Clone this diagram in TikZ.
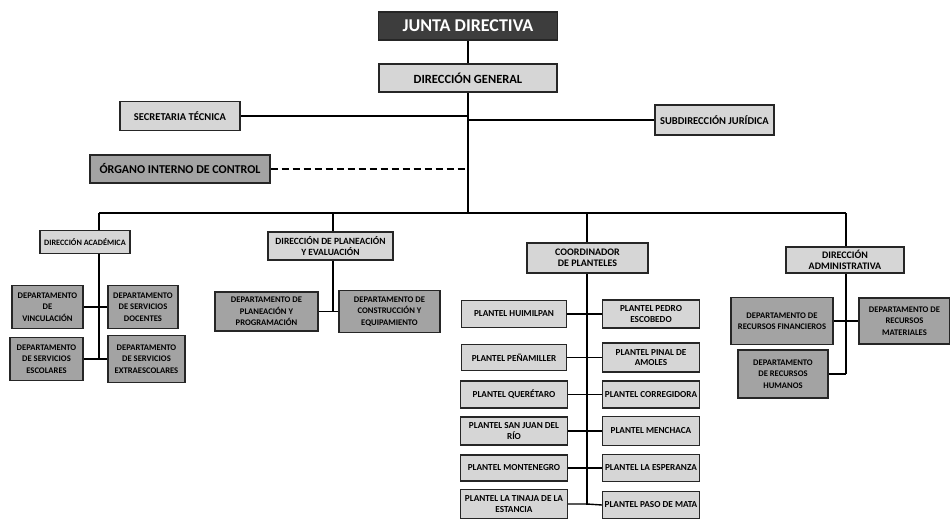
\documentclass[tikz,border=0pt]{standalone}
\usepackage{fontspec}
\setmainfont{Carlito}
\usetikzlibrary{backgrounds}
\definecolor{lightbox}{gray}{0.84}
\definecolor{darkbox}{gray}{0.64}
\definecolor{jdbox}{gray}{0.24}
\definecolor{edge}{gray}{0.15}
\newcommand{\fs}[1]{\fontsize{#1}{#1}\selectfont\bfseries}
\begin{document}
\begin{tikzpicture}[x=1pt,y=-1pt,
  box/.style={draw=edge, line width=1.3pt, align=center, inner sep=1pt, text=black},
  lightb/.style={box, fill=lightbox},
  darkb/.style={box, fill=darkbox},
  topb/.style={box, fill=jdbox, text=white, font=\fs{18}},
  fpl/.style={font=\fontsize{9.2}{10.5}\selectfont\bfseries},
  fdep/.style={font=\fontsize{8.6}{11.5}\selectfont\bfseries},
  conn/.style={draw=black, line width=1.4pt},
  trunk/.style={draw=black, line width=1.8pt},
  dashconn/.style={draw=black, line width=1.4pt, dash pattern=on 7pt off 4pt}]
\useasboundingbox (0,0) rectangle (950,519);

% top levels
\node[topb, minimum width=179pt, minimum height=28pt] (jd) at (468,26) {JUNTA DIRECTIVA};
\node[lightb, font=\fs{12.5}, minimum width=178pt, minimum height=28pt] (dg) at (468,78) {DIRECCIÓN GENERAL};
\node[lightb, font=\fs{10.5}, minimum width=120pt, minimum height=29pt] (sec) at (180,116) {SECRETARIA TÉCNICA};
\node[lightb, font=\fs{10.5}, minimum width=119pt, minimum height=30pt] (sub) at (714.5,120) {SUBDIRECCIÓN JURÍDICA};
\node[darkb, font=\fs{12}, minimum width=180pt, minimum height=28pt] (oic) at (180,169) {ÓRGANO INTERNO DE CONTROL};

% second level
\node[lightb, font=\fs{8.2}, minimum width=90pt, minimum height=23pt] (dirA) at (85,242) {DIRECCIÓN ACADÉMICA};
\node[lightb, font={\fontsize{9.5}{11}\selectfont\bfseries}, minimum width=125pt, minimum height=28pt] (dirP) at (330.5,246) {DIRECCIÓN DE PLANEACIÓN\\Y EVALUACIÓN};
\node[lightb, font={\fontsize{10}{11.5}\selectfont\bfseries}, minimum width=121pt, minimum height=30pt] (coord) at (587.5,258) {COORDINADOR\\DE PLANTELES};
\node[lightb, font={\fontsize{10}{11.5}\selectfont\bfseries}, minimum width=118pt, minimum height=26pt] (dirAdm) at (845,260) {DIRECCIÓN\\ADMINISTRATIVA};

% academic departments
\node[darkb, fdep, minimum width=71pt, minimum height=43pt] (dv) at (47.5,307) {DEPARTAMENTO\\DE\\VINCULACIÓN};
\node[darkb, fdep, minimum width=70pt, minimum height=43pt] (ds) at (143,307) {DEPARTAMENTO\\DE SERVICIOS\\DOCENTES};
\node[darkb, fdep, minimum width=73pt, minimum height=43pt] (dse) at (46.5,359) {DEPARTAMENTO\\DE SERVICIOS\\ESCOLARES};
\node[darkb, fdep, minimum width=77pt, minimum height=47pt] (dsx) at (146.5,359) {DEPARTAMENTO\\DE SERVICIOS\\EXTRAESCOLARES};

% planning departments
\node[darkb, fdep, minimum width=103pt, minimum height=39pt] (dpp) at (266.5,311.5) {DEPARTAMENTO DE\\PLANEACIÓN Y\\PROGRAMACIÓN};
\node[darkb, fdep, minimum width=101pt, minimum height=42pt] (dce) at (389.5,311.5) {DEPARTAMENTO DE\\CONSTRUCCIÓN Y\\EQUIPAMIENTO};

% planteles
\node[lightb, fpl, minimum width=105pt, minimum height=27pt] (p1) at (514,314) {PLANTEL HUIMILPAN};
\node[lightb, fpl, minimum width=97pt, minimum height=28pt] (q1) at (651,314) {PLANTEL PEDRO\\ESCOBEDO};
\node[lightb, fpl, minimum width=105pt, minimum height=26pt] (p2) at (514,357.5) {PLANTEL PEÑAMILLER};
\node[lightb, fpl, minimum width=97pt, minimum height=29pt] (q2) at (651,357.5) {PLANTEL PINAL DE\\AMOLES};
\node[lightb, fpl, minimum width=107pt, minimum height=27pt] (p3) at (514,394.5) {PLANTEL QUERÉTARO};
\node[lightb, fpl, minimum width=97pt, minimum height=27pt] (q3) at (651,394.5) {PLANTEL CORREGIDORA};
\node[lightb, fpl, minimum width=107pt, minimum height=28pt] (p4) at (514,431) {PLANTEL SAN JUAN DEL\\RÍO};
\node[lightb, fpl, minimum width=97pt, minimum height=29pt] (q4) at (651,431) {PLANTEL MENCHACA};
\node[lightb, fpl, minimum width=107pt, minimum height=26pt] (p5) at (514,468) {PLANTEL MONTENEGRO};
\node[lightb, fpl, minimum width=97pt, minimum height=27pt] (q5) at (651,468) {PLANTEL LA ESPERANZA};
\node[lightb, fpl, minimum width=107pt, minimum height=29pt] (p6) at (514,504) {PLANTEL LA TINAJA DE LA\\ESTANCIA};
\node[lightb, fpl, minimum width=97pt, minimum height=27pt] (q6) at (651,505) {PLANTEL PASO DE MATA};

% administrative departments
\node[darkb, fdep, minimum width=102pt, minimum height=47pt] (drf) at (782,321) {DEPARTAMENTO DE\\RECURSOS FINANCIEROS};
\node[darkb, fdep, minimum width=91pt, minimum height=46pt] (drm) at (904.5,321) {DEPARTAMENTO DE\\RECURSOS\\MATERIALES};
\node[darkb, fdep, minimum width=90pt, minimum height=48pt] (drh) at (783,374) {DEPARTAMENTO\\DE RECURSOS\\HUMANOS};

% coordinates
\coordinate (t1) at (468,213);
\coordinate (bL) at (99,213);
\coordinate (bP) at (333,213);
\coordinate (bC) at (587,213);
\coordinate (bR) at (846,213);
\coordinate (vA) at (99,359);
\coordinate (vP) at (333,311.5);
\coordinate (vC) at (587,505);
\coordinate (vR) at (846,374);

\begin{pgfonlayer}{background}
  \draw[trunk] (jd) -- (t1);
  \draw[conn] (sec.east) -- (sec.east -| t1);
  \draw[conn] (sub.west) -- (sub.west -| t1);
  \draw[dashconn] (oic.east) -- (oic.east -| t1);
  \draw[conn] (bL) -- (bR);
  \draw[conn] (bL) -- (vA);
  \draw[conn] (dv.east) -- (ds.west);
  \draw[conn] (dse.east) -- (dsx.west);
  \draw[conn] (bP) -- (vP);
  \draw[conn] (dpp.east) -- (dce.west);
  \draw[conn] (bC) -- (vC);
  \draw[conn] (p1.east) -- (q1.west);
  \draw[conn] (p2.east) -- (q2.west);
  \draw[conn] (p3.east) -- (q3.west);
  \draw[conn] (p4.east) -- (q4.west);
  \draw[conn] (p5.east) -- (q5.west);
  \draw[conn] (p6.east) -- (p6.east -| vC) -- (q6.west);
  \draw[conn] (bR) -- (vR);
  \draw[conn] (drf.east) -- (drm.west);
  \draw[conn] (drh.east) -- (vR);
\end{pgfonlayer}
\end{tikzpicture}
\end{document}
